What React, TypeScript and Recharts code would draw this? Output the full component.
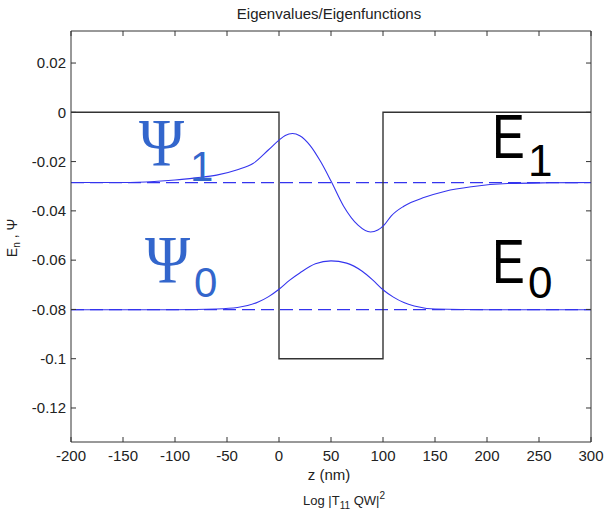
import { LineChart, Line, XAxis, YAxis, ReferenceLine } from "recharts";

// axis ticks
const zTicks = [-200, -150, -100, -50, 0, 50, 100, 150, 200, 250, 300];
const vTicks = [-0.12, -0.1, -0.08, -0.06, -0.04, -0.02, 0, 0.02];

// quantum well potential (nm, eV)
const wellZ = [-200, 0, 0, 100, 100, 300];
const wellV = [0, 0, -0.1, -0.1, 0, 0];

// energy levels E0, E1
const levels = [-0.0801, -0.0285];

// first excited state, drawn around E1
const psi1Z = [-200, -150, -120, -100, -80, -60, -40, -25, -10, 0, 6, 13, 20, 30, 40, 50, 62, 76, 88, 95, 101, 108, 120, 140, 160, 185, 220, 260, 300];
const psi1V = [-0.0285, -0.0285, -0.0281, -0.0275, -0.0266, -0.0255, -0.0233, -0.0208, -0.0152, -0.0113, -0.0094, -0.0086, -0.0095, -0.0135, -0.02, -0.0279, -0.038, -0.0458, -0.0486, -0.0478, -0.0458, -0.042, -0.0381, -0.0345, -0.032, -0.0302, -0.0289, -0.0286, -0.0285];

// ground state, drawn around E0
const psi0Z = [-200, -100, -60, -40, -20, -10, 0, 10, 20, 35, 50, 65, 80, 90, 100, 110, 120, 130, 150, 200, 300];
const psi0V = [-0.0801, -0.0801, -0.0798, -0.0792, -0.077, -0.0748, -0.0718, -0.0682, -0.0652, -0.0615, -0.0603, -0.0612, -0.0645, -0.068, -0.072, -0.075, -0.0772, -0.0786, -0.0798, -0.0801, -0.0801];

const toPoints = (zs: number[], vs: number[]) => zs.map((z, i) => ({ z, v: vs[i] }));

const FONT = "'Liberation Sans', Arial, sans-serif";
const SERIF = "'Liberation Serif', 'Times New Roman', serif";
const AXIS = "#333";
const CURVE = "#3434ee";
const PSI_TEXT = "#3366cc";

const tickStyle = { fill: "#222", fontSize: 15, fontFamily: FONT };
const noLabel = () => <g />;

export default function App() {
  return (
    <div style={{ position: "fixed", left: 0, top: 0, width: 607, height: 519, background: "#fff" }}>
      <LineChart width={607} height={519} margin={{ top: 30, right: 15, bottom: 57, left: 0 }}>
        <XAxis
          xAxisId="b"
          dataKey="z"
          type="number"
          domain={[-200, 300]}
          ticks={zTicks}
          height={20}
          tickSize={-5}
          tickMargin={13}
          stroke={AXIS}
          tick={tickStyle}
          allowDataOverflow
        />
        <XAxis
          xAxisId="t"
          orientation="top"
          dataKey="z"
          type="number"
          domain={[-200, 300]}
          ticks={zTicks}
          height={1}
          tickSize={-5}
          stroke={AXIS}
          tick={noLabel}
          allowDataOverflow
        />
        <YAxis
          yAxisId="l"
          type="number"
          domain={[-0.1338, 0.033]}
          ticks={vTicks}
          width={71}
          tickSize={-5}
          tickMargin={10}
          stroke={AXIS}
          tick={tickStyle}
          allowDataOverflow
        />
        <YAxis
          yAxisId="r"
          orientation="right"
          type="number"
          domain={[-0.1338, 0.033]}
          ticks={vTicks}
          width={1}
          tickSize={-5}
          stroke={AXIS}
          tick={noLabel}
          allowDataOverflow
        />

        {levels.map((e) => (
          <ReferenceLine
            key={e}
            xAxisId="b"
            yAxisId="l"
            y={e}
            stroke={CURVE}
            strokeWidth={1.2}
            strokeDasharray="13 6"
          />
        ))}

        <Line
          xAxisId="b"
          yAxisId="l"
          data={toPoints(wellZ, wellV)}
          dataKey="v"
          type="linear"
          stroke="#333"
          strokeWidth={1.4}
          dot={false}
          isAnimationActive={false}
        />
        <Line
          xAxisId="b"
          yAxisId="l"
          data={toPoints(psi1Z, psi1V)}
          dataKey="v"
          type="monotone"
          stroke={CURVE}
          strokeWidth={1.1}
          dot={false}
          isAnimationActive={false}
        />
        <Line
          xAxisId="b"
          yAxisId="l"
          data={toPoints(psi0Z, psi0V)}
          dataKey="v"
          type="monotone"
          stroke={CURVE}
          strokeWidth={1.1}
          dot={false}
          isAnimationActive={false}
        />
      </LineChart>

      <svg
        width={607}
        height={519}
        style={{ position: "absolute", left: 0, top: 0, pointerEvents: "none" }}
        fontFamily={FONT}
      >
        <text x={329} y={19} textAnchor="middle" fontSize={15} fill="#222">
          Eigenvalues/Eigenfunctions
        </text>
        <text x={329} y={480} textAnchor="middle" fontSize={15} fill="#222">
          z (nm)
        </text>
        <text x={344} y={505} textAnchor="middle" fontSize={13} fill="#222">
          Log |T<tspan fontSize={10} dy={4}>11</tspan>
          <tspan dy={-4}> QW|</tspan>
          <tspan fontSize={10} dy={-6}>2</tspan>
        </text>
        <text transform="translate(17,238) rotate(-90)" textAnchor="middle" fontSize={14} fill="#222">
          E<tspan fontSize={10} dy={3}>n</tspan>
          <tspan dy={-3}> ,  Ψ</tspan>
        </text>

        <text transform="translate(139,165) scale(0.9,1)" fontSize={68} fontFamily={SERIF} fill={PSI_TEXT}>
          Ψ
        </text>
        <text x={190} y={181} fontSize={42} fill={PSI_TEXT}>
          1
        </text>
        <text transform="translate(145,282) scale(0.9,1)" fontSize={68} fontFamily={SERIF} fill={PSI_TEXT}>
          Ψ
        </text>
        <text x={194} y={297} fontSize={42} fill={PSI_TEXT}>
          0
        </text>

        <text transform="translate(492,158) scale(0.78,1)" fontSize={63} fill="#000">
          E
        </text>
        <text x={528} y={176} fontSize={44} fill="#000">
          1
        </text>
        <text transform="translate(492,283) scale(0.78,1)" fontSize={63} fill="#000">
          E
        </text>
        <text x={528} y={298} fontSize={44} fill="#000">
          0
        </text>
      </svg>
    </div>
  );
}
